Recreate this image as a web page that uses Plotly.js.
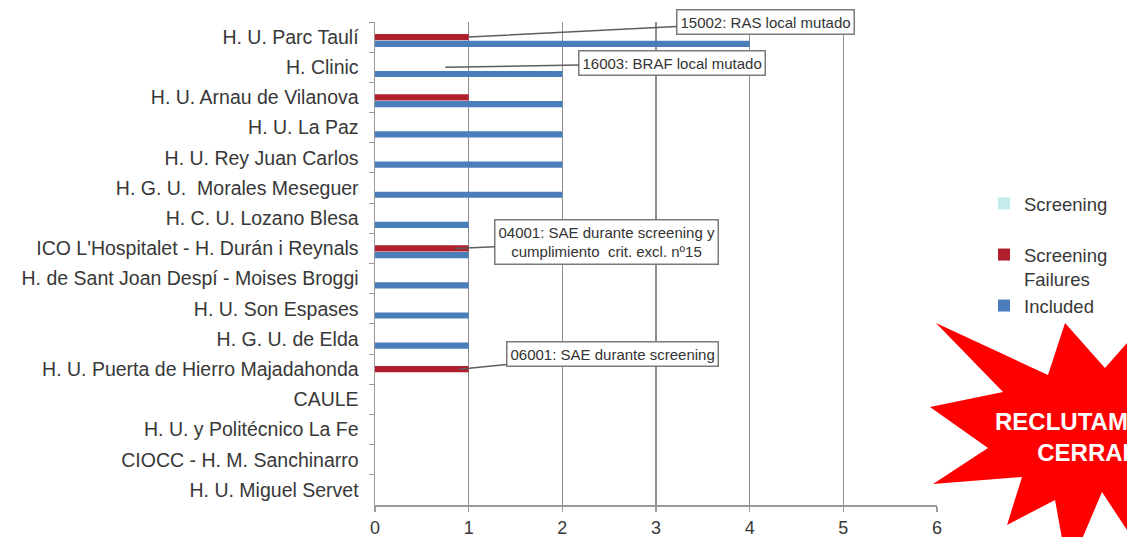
<!DOCTYPE html>
<html>
<head>
<meta charset="utf-8">
<script src="https://cdn.plot.ly/plotly-3.0.1.min.js"></script>
<style>html,body{margin:0;padding:0;background:#fff;}#chart{width:1127px;height:537px;}</style>
</head>
<body>
<div id="chart"></div>
<script>
// ---- data ----
const hospitals = [
  "H. U. Parc Taulí",
  "H. Clinic",
  "H. U. Arnau de Vilanova",
  "H. U. La Paz",
  "H. U. Rey Juan Carlos",
  "H. G. U.  Morales Meseguer",
  "H. C. U. Lozano Blesa",
  "ICO L'Hospitalet - H. Durán i Reynals",
  "H. de Sant Joan Despí - Moises Broggi",
  "H. U. Son Espases",
  "H. G. U. de Elda",
  "H. U. Puerta de Hierro Majadahonda",
  "CAULE",
  "H. U. y Politécnico La Fe",
  "CIOCC - H. M. Sanchinarro",
  "H. U. Miguel Servet"
];
const screening          = [0,0,0,0,0,0,0,0,0,0,0,0,0,0,0,0];
const screeningFailures  = [1,0,1,0,0,0,0,1,0,0,0,1,0,0,0,0];
const included           = [4,2,2,2,2,2,1,1,1,1,1,0,0,0,0,0];
const seriesNames = ["Screening", "Screening<br>Failures", "Included"];
const xTicks = [0,1,2,3,4,5,6];

const notes = [
  {text: "15002: RAS local mutado", x: 1, y: "H. U. Parc Taulí", ax: 297, ay: -15},
  {text: "16003: BRAF local mutado", x: 0.75, y: "H. Clinic", ax: 227, ay: -4},
  {text: "04001: SAE durante screening y<br>cumplimiento  crit. excl. nº15", x: 0.85, y: "ICO L'Hospitalet - H. Durán i Reynals", ax: 152, ay: -6},
  {text: "06001: SAE durante screening", x: 0.9, y: "H. U. Puerta de Hierro Majadahonda", ax: 153, ay: -15}
];
const stampText = "RECLUTAMIENTO<br>CERRADO";

// ---- layout geometry ----
const FW = 1127, FH = 537;
const M = {l: 375, r: 190, t: 22, b: 32};
const PW = FW - M.l - M.r, PH = FH - M.t - M.b;
const toX = px => (px - M.l) / PW;
const toY = py => (FH - M.b - py) / PH;

// star outline (decorative stamp), in pixel coords
const starPx = [[936,323],[1003,392],[930,407],[988,448],[933,484],[1022,477],[1007,525],[1055,500],
  [1068,572],[1102,492],[1150,565],[1250,440],[1150,317],[1105,368],[1065,323],[1048,375]];
const starPath = 'M ' + starPx.map(p => toX(p[0]).toFixed(4) + ',' + toY(p[1]).toFixed(4)).join(' L ') + ' Z';

const font = "Liberation Sans, Arial, sans-serif";
const txtColor = "#383838";

const traces = [
  {type: 'bar', orientation: 'h', name: seriesNames[0], y: hospitals, x: screening,
   marker: {color: '#c4ecec'}, legend: 'legend'},
  {type: 'bar', orientation: 'h', name: seriesNames[1], y: hospitals, x: screeningFailures,
   marker: {color: '#b01f2c'}, legend: 'legend2'},
  {type: 'bar', orientation: 'h', name: seriesNames[2], y: hospitals, x: included,
   marker: {color: '#4a7ebb'}, legend: 'legend3'}
];

const annotations = notes.map(n => ({
  x: n.x, y: n.y, xref: 'x', yref: 'y', text: n.text, showarrow: true,
  ax: n.ax, ay: n.ay, arrowhead: 0, arrowwidth: 1.5, arrowcolor: '#5e5e5e', standoff: 0,
  bgcolor: '#ffffff', bordercolor: '#7a7a7a', borderwidth: 1.5, borderpad: 3,
  font: {family: font, size: 15, color: '#333'}, align: 'center'
}));
annotations.push({
  xref: 'paper', yref: 'paper', x: toX(1098), y: toY(437), text: stampText,
  showarrow: false, xanchor: 'center', yanchor: 'middle', align: 'center',
  font: {family: font, size: 24, color: '#ffffff', weight: 'bold'}
});

const legendBase = {
  font: {family: font, size: 18.5, color: txtColor}, bgcolor: 'rgba(0,0,0,0)',
  xanchor: 'left', yanchor: 'top', x: toX(984), valign: 'top', itemclick: false
};

const layout = {
  width: FW, height: FH,
  margin: M,
  paper_bgcolor: '#fff', plot_bgcolor: '#fff',
  barmode: 'group', bargap: 0.33, bargroupgap: 0.08,
  showlegend: true,
  legend: Object.assign({}, legendBase, {y: toY(185)}),
  legend2: Object.assign({}, legendBase, {y: toY(236)}),
  legend3: Object.assign({}, legendBase, {y: toY(287)}),
  xaxis: {
    range: [0, 6], tickvals: xTicks, ticktext: xTicks.map(String),
    showgrid: true, gridcolor: '#8e8e8e', gridwidth: 1.2,
    showline: true, linecolor: '#9a9a9a', linewidth: 2,
    ticks: 'outside', ticklen: 5, tickcolor: '#9a9a9a', tickwidth: 1.5,
    zeroline: false, fixedrange: true, automargin: false,
    tickfont: {family: font, size: 18, color: txtColor}
  },
  yaxis: {
    type: 'category', autorange: 'reversed', automargin: false,
    showgrid: false, showline: true, linecolor: '#9a9a9a', linewidth: 1.5,
    ticks: 'outside', ticklen: 5, tickcolor: '#9a9a9a', tickson: 'boundaries',
    ticklabelstandoff: 11, fixedrange: true,
    tickfont: {family: font, size: 19.5, color: txtColor}
  },
  annotations: annotations,
  shapes: [{
    type: 'path', xref: 'paper', yref: 'paper', path: starPath,
    fillcolor: '#ff0000', line: {width: 0}, layer: 'above'
  }]
};

Plotly.newPlot('chart', traces, layout, {staticPlot: true, displayModeBar: false});
</script>
</body>
</html>
